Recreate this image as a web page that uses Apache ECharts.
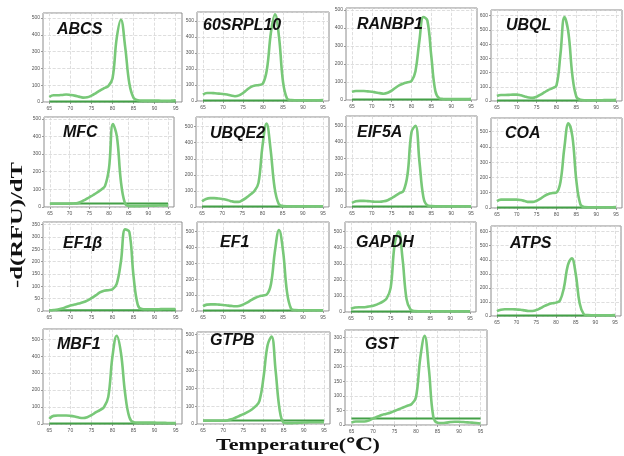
<!DOCTYPE html>
<html>
<head>
<meta charset="utf-8">
<script src="https://cdn.jsdelivr.net/npm/echarts@6/dist/echarts.min.js"></script>
<style>
html, body { margin: 0; padding: 0; background: #fff; }
#main { width: 624px; height: 456px; }
</style>
</head>
<body>
<div id="main"></div>
<script>
// 温度 65..95 (每 1 度)
var temps = [65,66,67,68,69,70,71,72,73,74,75,76,77,78,79,80,81,82,83,84,85,86,87,88,89,90,91,92,93,94,95];
var tempTicks = [65, 70, 75, 80, 85, 90, 95];

var genes = ['ABCS', '60SRPL10', 'RANBP1', 'UBQL',
             'MFC', 'UBQE2', 'EIF5A', 'COA',
             'EF1β', 'EF1', 'GAPDH', 'ATPS',
             'MBF1', 'GTPB', 'GST'];

// 熔解曲线 -d(RFU)/dT
var ABCS     = [30,40,40,42,45,42,38,32,26,28,38,52,68,82,95,140,380,490,330,110,25,10,8,8,8,8,8,7,7,8,10];
var SRPL10   = [40,50,50,48,46,44,40,34,30,35,50,70,88,97,100,110,200,430,540,400,120,15,6,5,5,5,5,5,5,5,6];
var RANBP1   = [45,50,50,50,48,46,42,38,35,40,52,68,82,92,98,105,160,330,460,440,240,50,10,6,5,5,5,5,5,5,6];
var UBQL     = [35,42,42,43,45,45,40,32,25,22,30,45,62,78,90,110,330,590,480,180,30,8,5,5,5,5,5,6,6,7,8];
var MFC      = [18,18,18,18,18,19,20,22,30,42,55,68,82,98,120,220,470,400,150,25,6,5,5,5,6,7,8,8,9,9,8];
var UBQE2    = [35,50,55,55,53,50,45,38,32,32,42,58,78,100,150,380,520,360,120,20,6,5,5,5,5,5,5,5,5,5,5];
var EIF5A    = [25,35,38,38,36,34,32,32,35,42,55,70,85,100,200,460,500,280,60,10,6,5,5,5,5,5,5,5,5,5,5];
var COA      = [45,55,55,55,55,55,52,46,40,40,48,62,80,92,98,102,170,400,555,470,180,25,6,5,5,5,5,5,5,5,6];
var EF1B     = [3,4,6,10,16,22,26,30,35,42,52,63,75,82,84,88,110,200,330,320,140,25,8,7,7,7,7,8,8,8,8];
var EF1      = [30,40,42,42,40,38,35,32,30,32,40,52,68,82,92,98,105,170,380,510,380,120,15,6,5,5,5,5,5,5,5];
var GAPDH    = [20,28,30,30,32,36,42,52,65,85,150,420,500,330,80,15,6,5,5,5,5,5,5,5,5,5,5,5,5,5,5];
var ATPS     = [35,45,48,48,48,46,44,40,36,36,42,55,70,82,90,95,110,200,360,410,300,90,15,6,5,5,5,5,5,5,6];
var MBF1     = [30,48,50,50,50,48,44,38,35,40,52,68,82,100,160,400,520,420,180,40,10,8,8,8,8,8,7,7,6,6,5];
var GTPB     = [18,18,18,18,18,18,20,26,35,45,55,66,80,98,130,260,440,490,300,80,8,5,5,6,7,8,9,10,10,10,10];
var GST      = [8,12,12,12,15,22,28,34,38,42,48,54,60,66,72,95,230,305,190,30,8,7,8,10,11,11,10,9,8,7,5];

var curves = [ABCS, SRPL10, RANBP1, UBQL, MFC, UBQE2, EIF5A, COA, EF1B, EF1, GAPDH, ATPS, MBF1, GTPB, GST];
// 基线
var baselines = [3,3,3,3, 20,3,3,3, 3,3,3,3, 3,20,22];
// y 轴范围
var yMaxes = [530,555,510,640, 510,560,560,590, 360,560,560,640, 560,515,325];
var ySteps = [100,100,100,100, 100,100,100,100, 50,100,100,100, 100,100,50];

// 布局 [left, top, right, bottom]
var boxes = [
    [43, 13, 182, 102], [197, 12, 329, 101], [346, 8, 477, 100], [491, 10, 622, 101],
    [44, 117, 174, 207], [196, 117, 329, 207], [346, 116, 477, 207], [491, 118, 622, 208],
    [43, 222, 182, 311], [197, 222, 329, 311], [345, 222, 476, 312], [491, 226, 621, 316],
    [43, 329, 182, 424], [197, 332, 330, 424], [345, 330, 487, 425]
];
var labelPos = [
    [57, 22], [203, 18], [357, 17], [506, 18],
    [63, 125], [210, 126], [357, 125], [505, 126],
    [63, 236], [220, 235], [356, 235], [510, 236],
    [57, 337], [210, 333], [365, 337]
];

var dom = document.getElementById('main');
var myChart = echarts.init(dom, null, {renderer: 'canvas'});

var option = {
    animation: false,
    backgroundColor: '#fff',
    title: [],
    grid: [],
    xAxis: [],
    yAxis: [],
    series: [],
    graphic: [
        {
            type: 'text',
            x: 18,
            y: 225,
            rotation: Math.PI / 2,
            scaleX: 1.45,
            style: {
                text: '-d(RFU)/dT',
                font: 'bold 17px "Liberation Serif", "DejaVu Serif", serif',
                fill: '#111',
                textAlign: 'center',
                textVerticalAlign: 'middle'
            }
        },
        {
            type: 'text',
            x: 298,
            y: 446,
            scaleX: 1.3,
            style: {
                text: 'Temperature(℃)',
                font: 'bold 17px "Liberation Serif", "DejaVu Serif", serif',
                fill: '#111',
                textAlign: 'center',
                textVerticalAlign: 'middle'
            }
        }
    ]
};

genes.forEach(function (name, i) {
    var b = boxes[i];
    option.grid.push({
        left: b[0], top: b[1], width: b[2] - b[0], height: b[3] - b[1],
        show: true, borderColor: '#8c8c8c', borderWidth: 1, backgroundColor: '#fff'
    });
    option.xAxis.push({
        gridIndex: i, type: 'value', min: 63.5, max: 96.5,
        axisLine: {show: false},
        axisTick: {show: true, customValues: tempTicks, length: 2, lineStyle: {color: '#999'}},
        axisLabel: {customValues: tempTicks, fontSize: 5, color: '#555', margin: 4},
        splitLine: {show: true, lineStyle: {color: '#d6d6d6', type: 'dashed', width: 0.8}}
    });
    option.yAxis.push({
        gridIndex: i, type: 'value', min: 0, max: yMaxes[i], interval: ySteps[i],
        axisLine: {show: false},
        axisTick: {show: true, length: 2, lineStyle: {color: '#999'}},
        axisLabel: {fontSize: 5, color: '#555', margin: 3, showMaxLabel: false},
        splitLine: {show: true, lineStyle: {color: '#d6d6d6', type: 'dashed', width: 0.8}}
    });
    option.series.push({
        type: 'line', xAxisIndex: i, yAxisIndex: i,
        data: temps.map(function (t, k) { return [t, curves[i][k]]; }),
        smooth: 0.4, symbol: 'none', z: 3,
        lineStyle: {color: '#78c878', width: 2.6}
    });
    option.series.push({
        type: 'line', xAxisIndex: i, yAxisIndex: i,
        data: [[temps[0], baselines[i]], [temps[temps.length - 1], baselines[i]]],
        symbol: 'none', z: 2,
        lineStyle: {color: '#43a047', width: 2}
    });
    option.title.push({
        text: name, left: labelPos[i][0], top: labelPos[i][1], padding: 0,
        textStyle: {
            fontFamily: '"Liberation Sans", Arial, sans-serif',
            fontSize: 16, fontWeight: 'bold', fontStyle: 'italic', color: '#111',
            textShadowColor: 'rgba(230,140,30,0.85)', textShadowOffsetX: 1, textShadowOffsetY: 0, textShadowBlur: 0
        }
    });
});

if (option && typeof option === "object") {
    myChart.setOption(option, true);
}
</script>
</body>
</html>
